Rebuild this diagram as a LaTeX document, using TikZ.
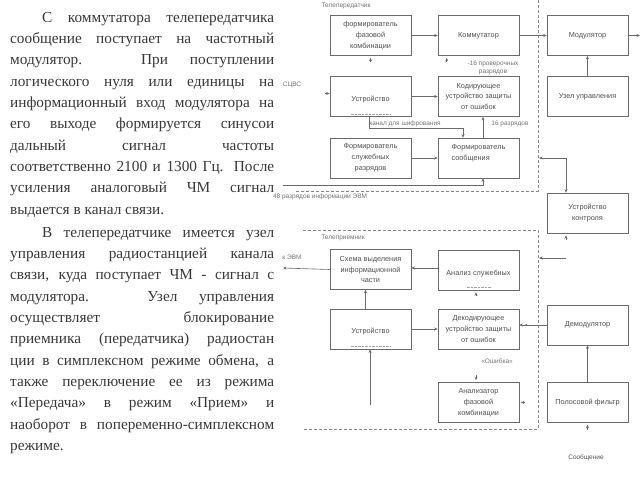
\documentclass[tikz,border=0pt]{standalone}
\usepackage{fontspec}
\setmainfont{Liberation Serif}
\newfontfamily\dfont{Liberation Sans}
\usetikzlibrary{arrows.meta,calc}
\definecolor{boxgray}{HTML}{6A6A6A}
\definecolor{txtgray}{HTML}{505050}
\definecolor{bodytext}{HTML}{383838}
\newcommand\abzacfont{\fontsize{15.3}{21.35}\selectfont
  \hyphenpenalty=10000\relax\exhyphenpenalty=10000\relax\tolerance=10000\relax}

\begin{document}
\begin{tikzpicture}[x=1pt,y=-1pt,
    abzac/.style={anchor=base west, inner sep=0pt, text width=264pt, align=justify, text=bodytext, font=\abzacfont},
    blok/.style={draw=boxgray, line width=0.6pt, minimum width=81pt, minimum height=40pt, inner sep=1pt,
      align=center, text=txtgray, font=\dfont\fontsize{7.3}{10.8}\selectfont},
    metka/.style={inner sep=0pt, text=txtgray!80, font=\dfont\fontsize{6.5}{7.2}\selectfont},
    arr/.style={draw=boxgray, line width=0.6pt, -{Stealth[length=3.5pt,width=3pt]}},
    ramka/.style={draw=boxgray!80, line width=0.5pt, densely dashed}]
  \useasboundingbox (0,0) rectangle (640,480);

  \node[abzac] (abz1) at (10,22) {\hspace*{32pt}С коммутатора телепередатчика\linebreak
    сообщение поступает на частотный\linebreak
    модулятор. При поступлении\linebreak
    логического нуля или единицы на\linebreak
    информационный вход модулятора на\linebreak
    его выходе формируется синусои\linebreak
    дальный сигнал частоты\linebreak
    соответственно 2100 и 1300 Гц. После\linebreak
    усиления аналоговый ЧМ сигнал\linebreak
    выдается в канал связи.};
  \node[abzac] (abz2) at (10,237) {\hspace*{32pt}В телепередатчике имеется узел\linebreak
    управления радиостанцией канала\linebreak
    связи, куда поступает ЧМ - сигнал с\linebreak
    модулятора. Узел управления\linebreak
    осуществляет блокирование\linebreak
    приемника (передатчика) радиостан\linebreak
    ции в симплексном режиме обмена, а\linebreak
    также переключение ее из режима\linebreak
    «Передача» в режим «Прием» и\linebreak
    наоборот в попеременно-симплексном\linebreak
    режиме.};

  % телепередатчик
  \draw[ramka] (538,0) -- (538,191) -- (296,191);
  \node[metka] (tpd) at (346,6) {Телепередатчик};
  \node[blok] (ffk) at (370.5,35.5) {формирователь\\фазовой\\комбинации};
  \node[blok] (komm) at (478.5,35.5) {Коммутатор};
  \node[blok] (modul) at (587.5,35.5) {Модулятор};
  \node[blok] (uzel) at (587.5,96.5) {Узел управления};
  \node[blok] (ustr) at (370.5,96.5) {\mbox{}\\Устройство};
  \node[blok] (kodir) at (478.5,96.5) {Кодирующее\\устройство защиты\\от ошибок};
  \node[blok] (fsr) at (370.5,158) {Формирователь\\служебных\\разрядов};
  \node[blok, align=left] (fsoob) at (478.5,158) {Формирователь\\сообщения\\\mbox{}};
  \node[blok] (ukontr) at (587.5,213) {Устройство\\контроля};

  \node[metka] (scvs) at (292,85) {СЦВС};
  \node[metka, align=center] (pr16) at (493,68) {-16 проверочных\\разрядов};
  \node[metka] (shifr) at (405,124) {канал для шифрования};
  \node[metka] (r16) at (510,124) {16 разрядов};
  \node[metka] (r48) at (320,197) {48 разрядов информации ЭВМ};

  \coordinate (ugol) at (463,128);
  \coordinate (vvod) at (283,185);
  \coordinate (vyhod) at (640,35.5);
  \coordinate (kontr1) at (539,158);

  \draw[arr] (ffk) -- (komm);
  \draw[arr] (komm) -- (modul);
  \draw[arr] (modul) -- (vyhod);
  \draw[arr] (uzel) -- (modul);
  \draw[arr] (ustr) -- (kodir);
  \draw[arr] (fsr) -- (fsoob);
  \draw[arr] ([xshift=4.5pt]fsoob.north) -- ([xshift=4.5pt]kodir.south);
  \draw[arr] ([xshift=-1.5pt]ustr.south) |- (ugol) -- (ugol |- fsoob.north);
  \draw[arr] (vvod) -| ([xshift=4.5pt]fsoob.south);
  \draw[arr, {Stealth[length=3.5pt,width=3pt]}-{Stealth[length=3.5pt,width=3pt]}] (kontr1) -| ([xshift=-21.5pt]ukontr.north);
  \draw[arr] ([yshift=-6pt]ffk.south) -- ([yshift=-2pt]ffk.south);
  \draw[arr] ([xshift=9pt,yshift=-6pt]komm.south west) -- ([xshift=9pt,yshift=-2pt]komm.south west);
  \draw[arr] ([xshift=-5pt,yshift=3pt]ustr.west) -- ([yshift=3pt]ustr.west);
  \draw[arr] ([xshift=-21.5pt,yshift=-7pt]ukontr.south) -- ([xshift=-21.5pt,yshift=-2pt]ukontr.south);
  \draw[boxgray!60, densely dotted] ([xshift=-20pt,yshift=3pt]ustr.south) -- ([xshift=20pt,yshift=3pt]ustr.south);

  % телеприемник
  \draw[ramka] (303,230) -- (538,230) -- (538,429) -- (303,429);
  \node[metka] (tpm) at (343,238) {Телеприемник};
  \node[blok] (schema) at (370.5,269.5) {Схема выделения\\информационной\\части};
  \node[blok] (analiz) at (478.5,270.5) {\mbox{}\\Анализ служебных};
  \node[blok] (ustr2) at (370.5,329) {\mbox{}\\Устройство};
  \node[blok] (dekod) at (478.5,329) {Декодирующее\\устройство защиты\\от ошибок};
  \node[blok] (demod) at (587.5,325) {Демодулятор};
  \node[blok] (anfk) at (478.5,402.5) {Анализатор\\фазовой\\комбинации};
  \node[blok] (pfiltr) at (587.5,402.5) {Полосовой фильтр};

  \node[metka] (kevm) at (292,257) {к ЭВМ};
  \node[metka] (osh) at (497,361) {«Ошибка»};
  \node[metka, text=txtgray] (soob) at (586,458) {Сообщение};

  \coordinate (kuda) at (283,268);
  \coordinate (kontr2) at (539,258);
  \coordinate (kontr2a) at (566,258);
  \coordinate (vhod) at (370,405);

  \draw[arr] ([yshift=2.5pt]analiz.west) -- ([yshift=2.5pt]analiz.west -| schema.east);
  \draw[arr] (schema.west) -- (kuda);
  \draw[arr] ([xshift=-5pt]ustr2.north) -- ([xshift=-5pt]schema.south);
  \draw[arr] (vhod) -- (vhod |- ustr2.south);
  \draw[arr] (ustr2) -- (ustr2 -| dekod.west);
  \draw[arr] (demod.west) -- (demod.west -| dekod.east);
  \fill[boxgray] ($(demod.west -| dekod.east)+(7,0)$) circle (1.1pt);
  \draw[arr] (pfiltr) -- (demod);
  \draw[arr] (kontr2a) -- (kontr2);
  \draw[arr] ([xshift=-2.5pt,yshift=-5pt]analiz.south) -- ([xshift=-2.5pt,yshift=-1.5pt]analiz.south);
  \draw[arr] ([xshift=-2.5pt,yshift=7pt]anfk.north) -- ([xshift=-2.5pt,yshift=2pt]anfk.north);
  \draw[arr] ([xshift=6pt]anfk.east) -- ([xshift=1.5pt]anfk.east);
  \draw[arr] ([yshift=-7pt]pfiltr.south) -- ([yshift=-2pt]pfiltr.south);
  \draw[boxgray!60, densely dotted] ([xshift=-20pt,yshift=3pt]ustr2.south) -- ([xshift=20pt,yshift=3pt]ustr2.south);
  \draw[boxgray!60, densely dotted] ([xshift=-12pt,yshift=4pt]analiz.south) -- ([xshift=12pt,yshift=4pt]analiz.south);
\end{tikzpicture}
\end{document}
